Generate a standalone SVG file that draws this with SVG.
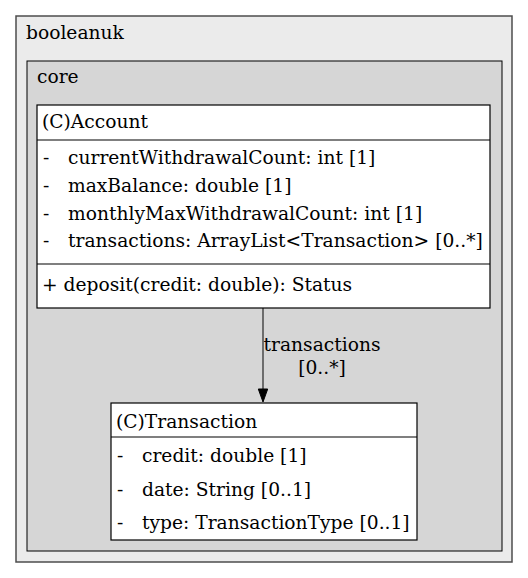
<svg xmlns="http://www.w3.org/2000/svg" width="528" height="578" viewBox="0 0 528 578">
<style>
text{font-family:"DejaVu Serif",serif;font-size:18.67px;fill:#000}
.pkg-outer{fill:#ebebeb;stroke:#4d4d4d;stroke-width:1.5}
.pkg-inner{fill:#d6d6d6;stroke:#000;stroke-width:1}
.cls{fill:#fff;stroke:#000;stroke-width:1.2}
.sep{stroke:#000;stroke-width:1.2}
.edge{stroke:#333;stroke-width:1.3;fill:none}
</style>
<rect width="528" height="578" fill="#fff"/>
<g id="pkg-booleanuk">
<rect class="pkg-outer" x="16" y="16" width="496" height="546"/>
<text x="26" y="39">booleanuk</text>
</g>
<g id="pkg-core">
<rect class="pkg-inner" x="27" y="61" width="475" height="490"/>
<text x="37" y="83">core</text>
</g>
<g id="edges">
<line class="edge" x1="263" y1="308" x2="263" y2="390"/>
<polygon points="258.3,389 267.7,389 263,402" fill="#000" stroke="#000" stroke-width="1"/>
<text x="322" y="351" text-anchor="middle">transactions</text>
<text x="322" y="374" text-anchor="middle">[0..*]</text>
</g>
<g id="node-Account">
<rect class="cls" x="37" y="105" width="453" height="203"/>
<line class="sep" x1="37" y1="140" x2="490" y2="140"/>
<line class="sep" x1="37" y1="264" x2="490" y2="264"/>
<text x="42" y="128">(C)Account</text>
<text x="43" y="164">-</text><text x="68" y="164">currentWithdrawalCount: int [1]</text>
<text x="43" y="192">-</text><text x="68" y="192">maxBalance: double [1]</text>
<text x="43" y="220">-</text><text x="68" y="220">monthlyMaxWithdrawalCount: int [1]</text>
<text x="43" y="247">-</text><text x="68" y="247">transactions: ArrayList&lt;Transaction&gt; [0..*]</text>
<text x="42" y="291">+ deposit(credit: double): Status</text>
</g>
<g id="node-Transaction">
<rect class="cls" x="111" y="403" width="306" height="137"/>
<line class="sep" x1="111" y1="437" x2="417" y2="437"/>
<text x="116" y="428">(C)Transaction</text>
<text x="117" y="462">-</text><text x="142" y="462">credit: double [1]</text>
<text x="117" y="496">-</text><text x="142" y="496">date: String [0..1]</text>
<text x="117" y="529">-</text><text x="142" y="529">type: TransactionType [0..1]</text>
</g>
</svg>
